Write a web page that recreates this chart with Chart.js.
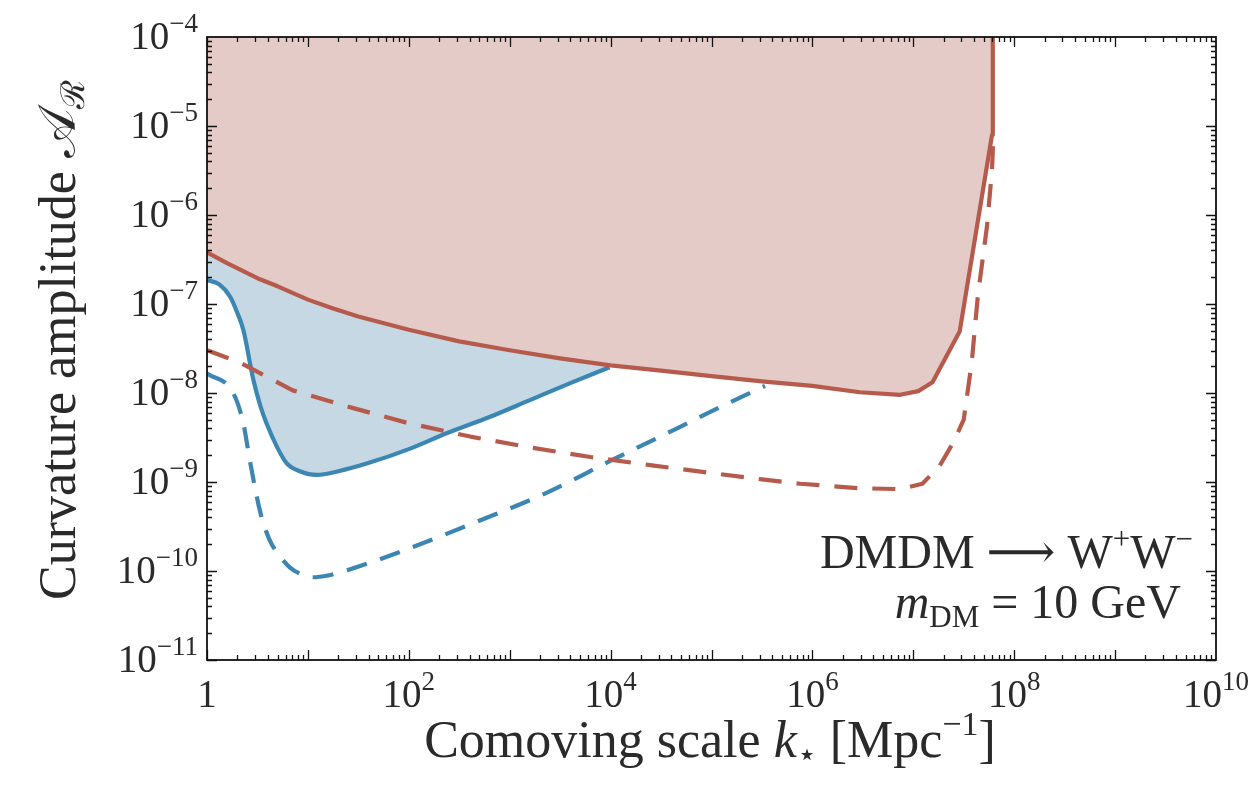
<!DOCTYPE html>
<html>
<head>
<meta charset="utf-8">
<script src="https://cdn.jsdelivr.net/npm/chart.js@4.4.0/dist/chart.umd.min.js"></script>
<style>
html,body{margin:0;padding:0;background:#fff}
#wrap{width:1256px;height:800px}
</style>
</head>
<body>
<div id="wrap"><canvas id="c"></canvas></div>
<script>
// values (k in Mpc^-1, A dimensionless)
const redSolidK=[1,1.58,3.16,5.01,10,17.8,31.6,100,316,1000,3162,1e4,31620,1e5,3.16e5,1e6,2.95e6,7.41e6,1.12e7,1.55e7,2.88e7,6.03e7,6.12e7,6.15e7];
const redSolidA=[3.8e-7,2.88e-7,1.95e-7,1.58e-7,1.12e-7,8.9e-8,7.24e-8,5.13e-8,3.8e-8,3.02e-8,2.45e-8,2.04e-8,1.78e-8,1.55e-8,1.35e-8,1.2e-8,1.02e-8,9.55e-9,1.05e-8,1.32e-8,4.9e-8,7.94e-6,1.32e-5,1e-4];

const redDashK=[1,2.14,7.08,28.2,100,407,1585,6310,24550,1e5,3.16e5,7.59e5,2.95e6,7.41e6,1.23e7,1.82e7,2.51e7,3.16e7,3.8e7,4.37e7,5.37e7,6.03e7,6.17e7];
const redDashA=[3.02e-8,2.19e-8,1.07e-8,6.76e-9,4.57e-9,3.24e-9,2.45e-9,1.91e-9,1.55e-9,1.26e-9,1.07e-9,9.55e-10,8.51e-10,8.32e-10,9.55e-10,1.51e-9,2.82e-9,5.01e-9,2.24e-8,1.26e-7,7.41e-7,3.24e-6,6.31e-6];

const blueSolidK=[1,1.32,1.7,2.0,2.29,2.88,3.39,3.89,5.01,6.17,8.32,12.3,20,38.9,100,240,631,1585,3981,9772];
const blueSolidA=[1.86e-7,1.66e-7,1.2e-7,7.94e-8,5.13e-8,1.41e-8,7.08e-9,4.57e-9,2.4e-9,1.62e-9,1.32e-9,1.2e-9,1.32e-9,1.62e-9,2.34e-9,3.55e-9,5.37e-9,8.32e-9,1.29e-8,1.95e-8];

const blueDashK=[1,1.82,2.29,2.69,3.39,4.17,5.25,6.61,8.32,11.2,15.8,24.5,110,513,2344,10470,48980,1.26e5,3.39e5];
const blueDashA=[1.66e-8,1e-8,4.57e-9,1.62e-9,4.47e-10,2.24e-10,1.48e-10,1.1e-10,9.33e-11,8.51e-11,8.91e-11,1.02e-10,1.86e-10,3.72e-10,7.59e-10,1.78e-9,4.17e-9,7.08e-9,1.2e-8];

// tick labels: value and exponent text
const xTickVals=[1,1e2,1e4,1e6,1e8,1e10];
const xTickExp=["","2","4","6","8","10"];
const yTickVals=[1e-11,1e-10,1e-9,1e-8,1e-7,1e-6,1e-5,1e-4];
const yTickExp=["\u221211","\u221210","\u22129","\u22128","\u22127","\u22126","\u22125","\u22124"];

const RED="#b65a4c", BLUE="#3b86b2";
const SERIF='"Liberation Serif","DejaVu Serif",serif';

function pts(ks,as){return ks.map((k,i)=>({x:k,y:as[i]}));}

// draws a list of [text,size,style,dy] pieces on one baseline
function rich(ctx,parts,x,y,align){
  let w=0;
  parts.forEach(p=>{ctx.font=(p[2]||"")+" "+p[1]+"px "+SERIF;p.w=ctx.measureText(p[0]).width;w+=p.w;});
  let cx=align==="right"?x-w:align==="center"?x-w/2:x;
  ctx.textAlign="left";ctx.textBaseline="alphabetic";
  parts.forEach(p=>{ctx.font=(p[2]||"")+" "+p[1]+"px "+SERIF;ctx.fillText(p[0],cx,y+(p[3]||0));cx+=p.w;});
}

const decor={
  id:"decor",
  afterDraw(chart){
    const ctx=chart.ctx, a=chart.chartArea, xs=chart.scales.x, ys=chart.scales.y;
    ctx.save();
    ctx.strokeStyle="#111";ctx.fillStyle="#2a2a2a";
    // inward ticks on all four sides
    ctx.lineWidth=1.3;
    ctx.beginPath();
    for(let e=0;e<10;e++){for(let m=1;m<=9;m++){
      const v=m*Math.pow(10,e), px=Math.round(xs.getPixelForValue(v))+0.5, L=m===1?10:5;
      ctx.moveTo(px,a.bottom);ctx.lineTo(px,a.bottom-L);
      ctx.moveTo(px,a.top);ctx.lineTo(px,a.top+L);
    }}
    for(let e=-11;e<-4;e++){for(let m=1;m<=9;m++){
      const v=m*Math.pow(10,e), py=Math.round(ys.getPixelForValue(v))+0.5, L=m===1?10:5;
      ctx.moveTo(a.left,py);ctx.lineTo(a.left+L,py);
      ctx.moveTo(a.right,py);ctx.lineTo(a.right-L,py);
    }}
    ctx.stroke();
    // frame
    ctx.lineWidth=1.8;
    ctx.strokeRect(a.left,a.top,a.right-a.left,a.bottom-a.top);
    // tick labels
    xTickVals.forEach((v,i)=>{
      const px=xs.getPixelForValue(v);
      if(xTickExp[i]==="") rich(ctx,[["1",39]],px,707,"center");
      else rich(ctx,[["10",39],[xTickExp[i],27,"",-17]],px,707,"center");
    });
    yTickVals.forEach((v,i)=>{
      const py=ys.getPixelForValue(v);
      rich(ctx,[["10",39],[yTickExp[i],27,"",-17]],198,py+12,"right");
    });
    // axis titles
    rich(ctx,[["Comoving scale ",52],["k",52,"italic"],["\u22c6",32,"",8],[" [Mpc",52],["\u22121",34,"",-22],["]",52]],710,757,"center");
    ctx.save();
    ctx.translate(75,340);ctx.rotate(-Math.PI/2);
    rich(ctx,[["Curvature amplitude ",52],["\ud835\udc9c",52],["\u211b",33,"",9]],0,0,"center");
    ctx.restore();
    // annotation
    rich(ctx,[["DMDM \u27f6 W",48],["+",31,"",-19],["W",48],["\u2212",31,"",-19]],1193,568,"right");
    rich(ctx,[["m",48,"italic"],["DM",31,"",9],[" = 10 GeV",48]],1181,618,"right");
    ctx.restore();
  }
};

new Chart(document.getElementById("c"),{
  type:"line",
  data:{datasets:[
    {data:pts(blueSolidK,blueSolidA),borderColor:BLUE,backgroundColor:"#c5d8e4",fill:"end",borderWidth:4.2,cubicInterpolationMode:"monotone",order:4},
    {data:pts(blueDashK,blueDashA),borderColor:BLUE,borderDash:[21,14],fill:false,borderWidth:4.2,cubicInterpolationMode:"monotone",order:3},
    {data:pts(redSolidK,redSolidA),borderColor:RED,backgroundColor:"#e5cbc7",fill:"end",borderWidth:4.2,tension:0,order:2},
    {data:pts(redDashK,redDashA),borderColor:RED,borderDash:[23,15],fill:false,borderWidth:4.2,tension:0,order:1}
  ]},
  options:{
    responsive:true,maintainAspectRatio:false,animation:false,
    parsing:false,
    elements:{point:{radius:0},line:{borderJoinStyle:"round",borderCapStyle:"butt"}},
    layout:{padding:{left:207,right:40,top:37,bottom:140}},
    plugins:{legend:{display:false},tooltip:{enabled:false}},
    scales:{
      x:{type:"logarithmic",min:1,max:1e10,display:false},
      y:{type:"logarithmic",min:1e-11,max:1e-4,display:false}
    }
  },
  plugins:[decor]
});
</script>
</body>
</html>
